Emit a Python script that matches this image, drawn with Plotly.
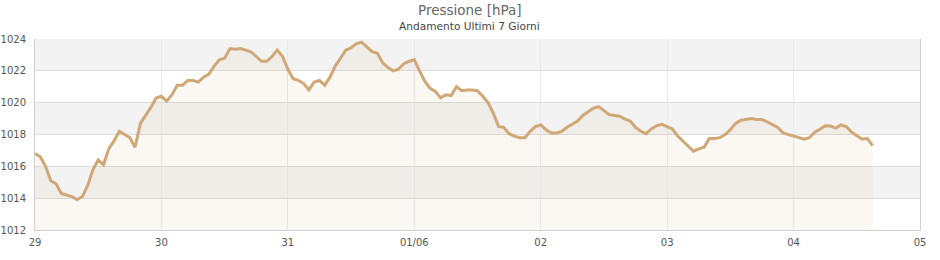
import pandas as pd
import plotly.graph_objects as go

# Hourly pressure readings (hPa) starting 29 May 00:00
pressure = [
    1016.8, 1016.6, 1016.0, 1015.1, 1014.9, 1014.3, 1014.2, 1014.1, 1013.9, 1014.1,
    1014.8, 1015.8, 1016.4, 1016.1, 1017.1, 1017.6, 1018.2, 1018.0, 1017.8, 1017.2,
    1018.7, 1019.2, 1019.7, 1020.3, 1020.4, 1020.1, 1020.5, 1021.1, 1021.1, 1021.4,
    1021.4, 1021.3, 1021.6, 1021.8, 1022.3, 1022.7, 1022.8, 1023.4, 1023.35, 1023.4,
    1023.3, 1023.2, 1022.9, 1022.6, 1022.6, 1022.9, 1023.3, 1022.9, 1022.1, 1021.5,
    1021.4, 1021.2, 1020.8, 1021.3, 1021.4, 1021.1, 1021.6, 1022.3, 1022.8, 1023.3,
    1023.45, 1023.7, 1023.8, 1023.5, 1023.2, 1023.1, 1022.5, 1022.2, 1022.0, 1022.1,
    1022.45, 1022.6, 1022.7, 1022.0, 1021.35, 1020.9, 1020.7, 1020.3, 1020.5, 1020.45,
    1021.0, 1020.75, 1020.8, 1020.8, 1020.75, 1020.4, 1020.0, 1019.35, 1018.5, 1018.45,
    1018.05, 1017.9, 1017.8, 1017.8, 1018.2, 1018.5, 1018.6, 1018.3, 1018.1, 1018.1,
    1018.2, 1018.45, 1018.65, 1018.85, 1019.2, 1019.45, 1019.65, 1019.75, 1019.5, 1019.25,
    1019.2, 1019.15, 1018.97, 1018.85, 1018.45, 1018.2, 1018.05, 1018.35, 1018.55, 1018.64,
    1018.5, 1018.35, 1017.9, 1017.6, 1017.3, 1016.95, 1017.1, 1017.2, 1017.75, 1017.75,
    1017.8, 1018.0, 1018.3, 1018.7, 1018.9, 1018.95, 1019.0, 1018.95, 1018.95, 1018.8,
    1018.6, 1018.45, 1018.1, 1018.0, 1017.9, 1017.82, 1017.7, 1017.8, 1018.15, 1018.33,
    1018.55, 1018.53, 1018.4, 1018.6, 1018.5, 1018.15, 1017.95, 1017.7, 1017.75, 1017.3,
]
start_time = "2024-05-29 00:00"
times = pd.date_range(start_time, periods=len(pressure), freq="h")

day_ticks = ["2024-05-29", "2024-05-30", "2024-05-31", "2024-06-01",
             "2024-06-02", "2024-06-03", "2024-06-04", "2024-06-05"]
day_labels = ["29", "30", "31", "01/06", "02", "03", "04", "05"]
y_ticks = [1012, 1014, 1016, 1018, 1020, 1022, 1024]

title_text = "Pressione [hPa]"
subtitle_text = "Andamento Ultimi 7 Giorni"

fig = go.Figure()
fig.add_trace(go.Scatter(
    x=times, y=pressure, mode="lines", line_shape="linear",
    line=dict(color="#d0a877", width=3),
    fill="tozeroy", fillcolor="rgba(205,160,115,0.08)",
    hoverinfo="x+y",
))

# alternating horizontal bands
shapes = []
for i in range(len(y_ticks) - 1):
    if i % 2 == 1:
        shapes.append(dict(type="rect", xref="paper", yref="y", x0=0, x1=1,
                           y0=y_ticks[i], y1=y_ticks[i + 1],
                           fillcolor="#f3f3f3", line_width=0, layer="below"))

font_family = "DejaVu Sans, Verdana, sans-serif"
fig.update_layout(
    width=940, height=260,
    margin=dict(l=35, r=20, t=39, b=30, autoexpand=False),
    paper_bgcolor="white", plot_bgcolor="white",
    showlegend=False,
    shapes=shapes,
    font=dict(family=font_family, size=10, color="#555"),
    annotations=[
        dict(text=title_text, xref="paper", yref="paper", x=0.4915, y=1.152,
             showarrow=False, xanchor="center", yanchor="middle",
             font=dict(size=13.5, color="#666", family=font_family)),
        dict(text=subtitle_text, xref="paper", yref="paper", x=0.4915, y=1.068,
             showarrow=False, xanchor="center", yanchor="middle",
             font=dict(size=10.6, color="#444", family=font_family)),
    ],
    xaxis=dict(
        type="date", range=[day_ticks[0], day_ticks[-1]],
        tickvals=day_ticks, ticktext=day_labels, automargin=False,
        showgrid=True, gridcolor="#e8e8f5", gridwidth=1,
        showline=True, linecolor="#d0d0d0", linewidth=1,
        ticks="", zeroline=False, tickfont=dict(size=10, color="#555"),
        ticklabelstandoff=3,
    ),
    yaxis=dict(
        range=[y_ticks[0], y_ticks[-1]], tickvals=y_ticks, automargin=False,
        showgrid=True, gridcolor="#dddddd", gridwidth=1,
        showline=True, linecolor="#d0d0d0", linewidth=1, mirror=True,
        ticks="", zeroline=False, tickfont=dict(size=10, color="#555"),
        ticklabelstandoff=6,
    ),
)

fig.write_html("out.html")
